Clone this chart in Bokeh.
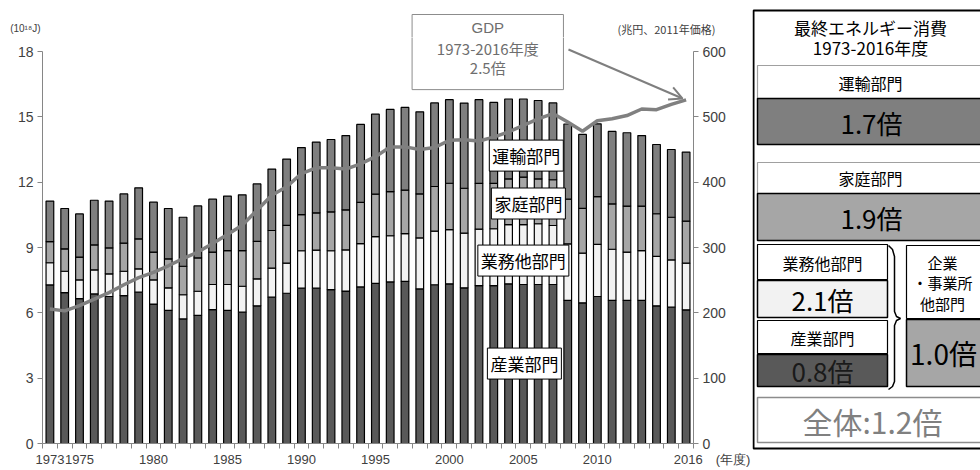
from bokeh.plotting import figure
from bokeh.models import (Range1d, LinearAxis, FixedTicker, Label, Arrow, OpenHead,
                          ColumnDataSource)
from bokeh.layouts import row, column
from bokeh.embed import file_html
from bokeh.resources import INLINE
from bokeh.core.properties import value

# ---------------- data ----------------
years = list(range(1973, 2017))
industry = [7.28, 6.93, 6.65, 6.87, 6.75, 6.79, 6.95, 6.40, 6.11, 5.72, 5.88, 6.15, 6.11, 6.03,
            6.32, 6.72, 6.90, 7.13, 7.13, 7.07, 7.00, 7.19, 7.35, 7.42, 7.44, 7.10, 7.29, 7.33,
            7.15, 7.25, 7.25, 7.33, 7.30, 7.30, 7.30, 6.57, 6.46, 6.75, 6.57, 6.57, 6.57, 6.32,
            6.26, 6.14]
commercial = [1.02, 0.98, 0.86, 1.10, 1.04, 1.12, 1.07, 1.11, 1.04, 1.11, 1.11, 1.15, 1.19, 1.19,
              1.24, 1.33, 1.38, 1.72, 1.75, 1.78, 1.89, 1.99, 2.15, 2.12, 2.20, 2.34, 2.46, 2.49,
              2.51, 2.59, 2.61, 2.72, 2.75, 2.79, 2.71, 2.60, 2.28, 2.39, 2.35, 2.22, 2.29, 2.27,
              2.17, 2.14]
household = [0.97, 1.03, 1.05, 1.15, 1.19, 1.29, 1.38, 1.28, 1.33, 1.31, 1.53, 1.49, 1.56, 1.64,
             1.72, 1.73, 1.74, 1.66, 1.71, 1.79, 1.84, 1.89, 1.95, 2.03, 1.99, 2.02, 2.05, 2.13,
             2.06, 2.10, 2.08, 2.10, 2.18, 2.06, 2.10, 2.05, 2.06, 2.20, 2.08, 2.11, 2.04, 1.96,
             1.96, 1.93]
transport = [1.86, 1.85, 1.98, 2.05, 2.15, 2.26, 2.34, 2.29, 2.31, 2.25, 2.39, 2.43, 2.50, 2.56,
             2.64, 2.82, 3.04, 3.08, 3.25, 3.32, 3.41, 3.58, 3.67, 3.77, 3.80, 3.77, 3.84, 3.84,
             3.91, 3.85, 3.72, 3.67, 3.59, 3.60, 3.53, 3.45, 3.39, 3.34, 3.33, 3.37, 3.24, 3.18,
             3.11, 3.17]
gdp = [206, 203, 211, 221, 231, 243, 254, 262, 272, 283, 293, 306, 320, 334,
       357, 380, 393, 413, 422, 422, 420, 428, 439, 454, 454, 450, 453, 464,
       465, 463, 469, 477, 487, 497, 505, 492, 478, 494, 497, 502, 512, 511,
       519, 526]
x_label_years = [1973, 1975, 1980, 1985, 1990, 1995, 2000, 2005, 2010, 2016]
left_ticks = [0, 3, 6, 9, 12, 15, 18]
right_ticks = [0, 100, 200, 300, 400, 500, 600]
series_names = ["産業部門", "業務他部門", "家庭部門", "運輸部門"]
ratios = ["0.8倍", "2.1倍", "1.9倍", "1.7倍"]
gdp_box_text = ["GDP", "1973-2016年度", "2.5倍"]
left_unit = "(10¹⁸J)"
right_unit = "(兆円、2011年価格)"
x_unit = "(年度)"

C_IND, C_COM, C_HOU, C_TRA = "#595959", "#f2f2f2", "#a6a6a6", "#7f7f7f"
JP = "Noto Sans CJK JP"
NUM = "Liberation Sans"

# ---------------- geometry ----------------
STRIP_H = 37          # top strip (unit labels, top of GDP box)
LEFT, RIGHT_AX = 42, 59
P_W = 752
P_H = 470 - STRIP_H
BOTTOM = 27
X0, X1 = 1972.5, 2016.5
y_end = 18 * (443 - STRIP_H) / (443 - 51)
g_end = 600 * (443 - STRIP_H) / (443 - 51)

BOX_L, BOX_R, BOX_B = 1997.48, 2007.71, 16.25

# ---------------- main chart ----------------
p = figure(width=P_W, height=P_H, x_range=Range1d(X0, X1), y_range=Range1d(0, y_end),
           output_backend="svg", toolbar_location=None,
           min_border_left=LEFT, min_border_right=RIGHT_AX, min_border_top=0, min_border_bottom=BOTTOM)
p.outline_line_color = None
p.grid.visible = False

src = ColumnDataSource(dict(year=years, ind=industry, com=commercial, hou=household, tra=transport))
p.vbar_stack(["ind", "com", "hou", "tra"], x="year", width=0.52, source=src,
             fill_color=[C_IND, C_COM, C_HOU, C_TRA], line_color="black", line_width=1.2)

p.extra_y_ranges = {"gdp": Range1d(0, g_end)}
p.line(years, gdp, y_range_name="gdp", line_color="#808080", line_width=3.5)

xa = p.xaxis[0]
xa.ticker = FixedTicker(ticks=x_label_years, minor_ticks=[y - 0.5 for y in years] + [X1])
xa.major_label_overrides = {2016: "\u3000\u3000\u3000\u30002016\u3000" + x_unit}
xa.major_tick_out = 0
xa.major_tick_in = 0
xa.minor_tick_out = 5
xa.minor_tick_in = 0
xa.minor_tick_line_color = "#868686"
xa.axis_line_color = "#868686"
xa.major_label_text_font = NUM
xa.major_label_text_font_size = "13px"
xa.major_label_text_color = "#404040"
xa.major_label_standoff = 3

ya = p.yaxis[0]
ya.ticker = FixedTicker(ticks=left_ticks)
ya.bounds = (0, 18)
ya.axis_line_color = "#868686"
ya.major_tick_line_color = "#868686"
ya.major_tick_out = 5
ya.major_tick_in = 0
ya.minor_tick_line_color = None
ya.major_label_text_font = NUM
ya.major_label_text_font_size = "14px"
ya.major_label_text_color = "#404040"
ya.major_label_standoff = 4

ra = LinearAxis(y_range_name="gdp", ticker=FixedTicker(ticks=right_ticks), bounds=(0, 600))
ra.axis_line_color = "#868686"
ra.major_tick_line_color = "#868686"
ra.major_tick_out = 5
ra.major_tick_in = 0
ra.minor_tick_line_color = None
ra.major_label_text_font = NUM
ra.major_label_text_font_size = "14px"
ra.major_label_text_color = "#404040"
ra.major_label_standoff = 4
p.add_layout(ra, "right")

# GDP annotation box (lower part; upper part is in the strip)
p.quad(left=[BOX_L], right=[BOX_R], top=[y_end + 1], bottom=[BOX_B],
       fill_color="white", line_color="#8c8c8c", line_width=1)
p.text(x=[(BOX_L + BOX_R) / 2] * 2, y=[18.15, 17.28], text=gdp_box_text[1:],
       text_align="center", text_baseline="middle", text_font=value(JP),
       text_font_size="15px", text_color="#6e6e6e")
p.add_layout(Arrow(end=OpenHead(size=13, line_color="#7f7f7f", line_width=2),
                   x_start=2008.05, y_start=18.09, x_end=2015.76, y_end=15.84,
                   line_color="#7f7f7f", line_width=2))

for name, (lx, ly) in zip(series_names, [(2005.07, 3.67), (2005.0, 8.40), (2005.34, 11.02), (2005.2, 13.22)]):
    p.add_layout(Label(x=lx, y=ly, text=name, text_align="center", text_baseline="middle",
                       text_font=JP, text_font_size="17px", text_color="black",
                       background_fill_color="white", border_line_color="black",
                       border_line_width=1, padding=3))

# ---------------- top strip (same horizontal frame as the chart) ----------------
s = figure(width=P_W, height=STRIP_H, x_range=Range1d(X0, X1), y_range=Range1d(STRIP_H, 0),
           output_backend="svg", toolbar_location=None, x_axis_type=None, y_axis_type=None,
           min_border_left=LEFT, min_border_right=RIGHT_AX, min_border_top=0, min_border_bottom=0)
s.outline_line_color = None
s.grid.visible = False
s.quad(left=[BOX_L], right=[BOX_R], top=[14], bottom=[STRIP_H + 5],
       fill_color="white", line_color="#8c8c8c", line_width=1)
s.text(x=[(BOX_L + BOX_R) / 2], y=[26.5], text=gdp_box_text[:1],
       text_align="center", text_baseline="middle", text_font=value(NUM),
       text_font_size="15px", text_color="#6e6e6e")

UNIT_Y = 28
la = LinearAxis(ticker=FixedTicker(ticks=[UNIT_Y]), major_label_overrides={UNIT_Y: left_unit})
rb = LinearAxis(ticker=FixedTicker(ticks=[UNIT_Y]), major_label_overrides={UNIT_Y: right_unit})
for ax, fnt, sz, so in [(la, NUM, "10px", 2), (rb, JP, "11px", -76)]:
    ax.axis_line_color = None
    ax.major_tick_line_color = None
    ax.minor_tick_line_color = None
    ax.major_tick_out = 0
    ax.major_tick_in = 0
    ax.major_label_standoff = so
    ax.major_label_text_font = fnt
    ax.major_label_text_font_size = sz
    ax.major_label_text_color = "#404040"
s.add_layout(la, "left")
s.add_layout(rb, "right")

# ---------------- right panel ----------------
q = figure(width=228, height=470, x_range=Range1d(752, 980), y_range=Range1d(470, 0),
           output_backend="svg", toolbar_location=None, x_axis_type=None, y_axis_type=None,
           min_border=0)
q.outline_line_color = None
q.grid.visible = False

q.quad(left=[753], right=[990], top=[10], bottom=[448], fill_color=None, line_color="black", line_width=2)
q.text(x=[870, 870], y=[27, 47], text=["最終エネルギー消費", "1973-2016年度"], text_align="center",
       text_baseline="middle", text_font=value(JP), text_font_size="17px", text_color="black")

q.quad(left=[757, 757, 757, 757, 906], right=[990, 990, 887, 887, 990],
       top=[65, 162, 244, 320, 245], bottom=[98, 193, 279, 353, 318],
       fill_color="white", line_color=["#a0a0a0", "#a0a0a0", "black", "black", "black"], line_width=1.2)
q.quad(left=[757, 757, 757, 757, 906], right=[990, 990, 887, 887, 990],
       top=[98, 193, 280, 354, 319], bottom=[144, 240, 317, 386, 386],
       fill_color=[C_TRA, C_HOU, C_COM, C_IND, C_HOU], line_color="black", line_width=1.5)
q.quad(left=[757], right=[990], top=[397], bottom=[442], fill_color="white",
       line_color="#8c8c8c", line_width=1.5)

q.line(x=[888, 892, 894, 894, 896, 900, 896, 894, 894, 892, 888],
       y=[245, 249, 256, 311, 316, 318, 320, 325, 381, 386, 389], line_color="black", line_width=1.5)

q.text(x=[870, 870, 822, 822], y=[82, 177, 262, 337],
       text=[series_names[3], series_names[2], series_names[1], series_names[0]],
       text_align="center", text_baseline="middle", text_font=value(JP), text_font_size="16px",
       text_color="black")
q.text(x=[871, 871, 822, 822], y=[122, 217, 299, 370],
       text=[ratios[3], ratios[2], ratios[1], ratios[0]],
       text_align="center", text_baseline="middle", text_font=value(JP), text_font_size="26px",
       text_color=["black", "black", "black", "#1a1a1a"])
q.text(x=[942, 942, 942], y=[262, 282, 303], text=["企業", "・事業所", "他部門"],
       text_align="center", text_baseline="middle", text_font=value(JP), text_font_size="15px",
       text_color="black")
q.text(x=[943], y=[352], text=["1.0倍"], text_align="center", text_baseline="middle",
       text_font=value(JP), text_font_size="28px", text_color="black")
q.text(x=[872], y=[420], text=["全体:1.2倍"], text_align="center", text_baseline="middle",
       text_font=value(JP), text_font_size="30px", text_color="#808080")

layout = row(column(s, p), q)
open("out.html", "w").write(file_html(layout, INLINE))
